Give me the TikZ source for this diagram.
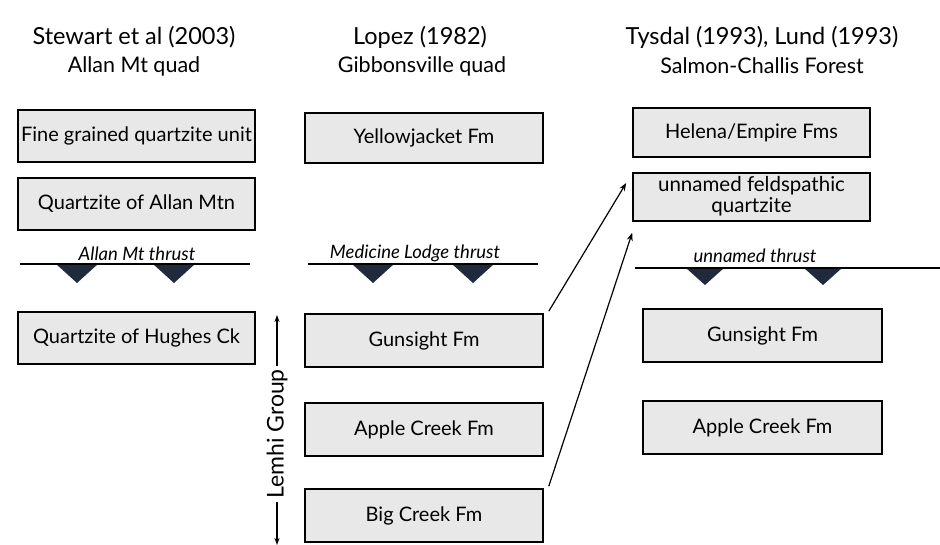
\documentclass[tikz,border=0pt]{standalone}
\usepackage{fontspec}
\setmainfont{Lato}
\usetikzlibrary{arrows.meta,calc}
\definecolor{boxgray}{HTML}{E8E8E8}
\definecolor{trinavy}{HTML}{1F2A3C}
\tikzset{
  titletext/.style={font=\fontsize{23.5}{26}\selectfont, inner sep=0pt},
  subtext/.style={font=\fontsize{21.5}{23}\selectfont, inner sep=0pt},
  unitbox/.style={draw=black, fill=boxgray, line width=1.6pt, minimum width=237pt,
    minimum height=52pt, inner sep=0pt, font=\fontsize{20}{22}\selectfont},
  thrustlabel/.style={font=\itshape\fontsize{18.5}{20}\selectfont, inner sep=0pt},
  thrustline/.style={line width=1.4pt, black},
  tooth/.style={fill=trinavy},
  corr/.style={line width=1.2pt, -{Stealth[length=8pt,width=6pt]}},
}
\begin{document}
\begin{tikzpicture}[x=1pt,y=-1pt]
\useasboundingbox[fill=white] (0,0) rectangle (940,545);
% titles
\node[titletext] (t1a) at (134,37) {Stewart et al (2003)};
\node[subtext] (t1b) at (134,66) {Allan Mt quad};
\node[titletext] (t2a) at (420,37) {Lopez (1982)};
\node[subtext] (t2b) at (422,66) {Gibbonsville quad};
\node[titletext] (t3a) at (762,37) {Tysdal (1993), Lund (1993)};
\node[subtext] (t3b) at (762,66) {Salmon-Challis Forest};
% column 1
\node[unitbox] (b11) at (136.5,136) {Fine grained quartzite unit};
\node[unitbox] (b12) at (136.5,204) {Quartzite of Allan Mtn};
\node[unitbox] (b13) at (136.5,338) {Quartzite of Hughes Ck};
% column 2
\node[unitbox, minimum width=238pt, minimum height=50pt] (b21) at (424,138) {Yellowjacket Fm};
\node[unitbox, minimum width=238pt, minimum height=53pt] (b22) at (424,340.5) {Gunsight Fm};
\node[unitbox, minimum width=238pt, minimum height=53pt] (b23) at (424,429.5) {Apple Creek Fm};
\node[unitbox, minimum width=238pt, minimum height=53pt] (b24) at (424,515.5) {Big Creek Fm};
% column 3
\node[unitbox, minimum height=49pt] (b31) at (751.5,132.5) {Helena/Empire Fms};
\node[unitbox, minimum height=48pt, font=\fontsize{20.5}{17}\selectfont] (b32) at (751.5,197)
  {\raisebox{5pt}{\begin{tabular}{@{}c@{}}unnamed feldspathic\\quartzite\end{tabular}}};
\node[unitbox, minimum width=239pt, minimum height=53pt] (b33) at (762.5,335.5) {Gunsight Fm};
\node[unitbox, minimum width=239pt, minimum height=53pt] (b34) at (762.5,427.5) {Apple Creek Fm};
% thrusts
\node[thrustlabel] (th1) at (137,254) {Allan Mt thrust};
\node[thrustlabel] (th2) at (415,253) {Medicine Lodge thrust};
\node[thrustlabel] (th3) at (755,256) {unnamed thrust};
\foreach \x in {77,174} {\fill[tooth] (\x-21,264) -- (\x+21,264) -- (\x,283) -- cycle;}
\foreach \x in {373,473} {\fill[tooth] (\x-21,264) -- (\x+21,264) -- (\x,283) -- cycle;}
\foreach \x in {705,823} {\fill[tooth] (\x-19,268) -- (\x+19,268) -- (\x,285) -- cycle;}
\coordinate (l1a) at (20,264); \coordinate (l1b) at (250,264);
\coordinate (l2a) at (308,264); \coordinate (l2b) at (538,264);
\coordinate (l3a) at (635,268); \coordinate (l3b) at (940,268);
\draw[thrustline] (l1a) -- (l1b);
\draw[thrustline] (l2a) -- (l2b);
\draw[thrustline] (l3a) -- (l3b);
% Lemhi Group
\node[rotate=90, font=\fontsize{23}{25}\selectfont, inner sep=3pt] (lemhi) at (277,434) {Lemhi Group};
\coordinate (lup) at (277,315);
\coordinate (ldn) at (277,545);
\draw[line width=1.2pt, -{Stealth[length=7pt,width=5pt]}] (lemhi.east) -- (lup);
\draw[line width=1.2pt, -{Stealth[length=7pt,width=5pt]}] (lemhi.west) -- (ldn);
% correlation arrows
\draw[corr] ($(b22.north east)+(5,-2)$) -- ($(b32.west)+(-6,-14)$);
\draw[corr] ($(b24.north east)+(5,-2)$) -- ($(b32.south west)+(0,11)$);
\end{tikzpicture}
\end{document}
